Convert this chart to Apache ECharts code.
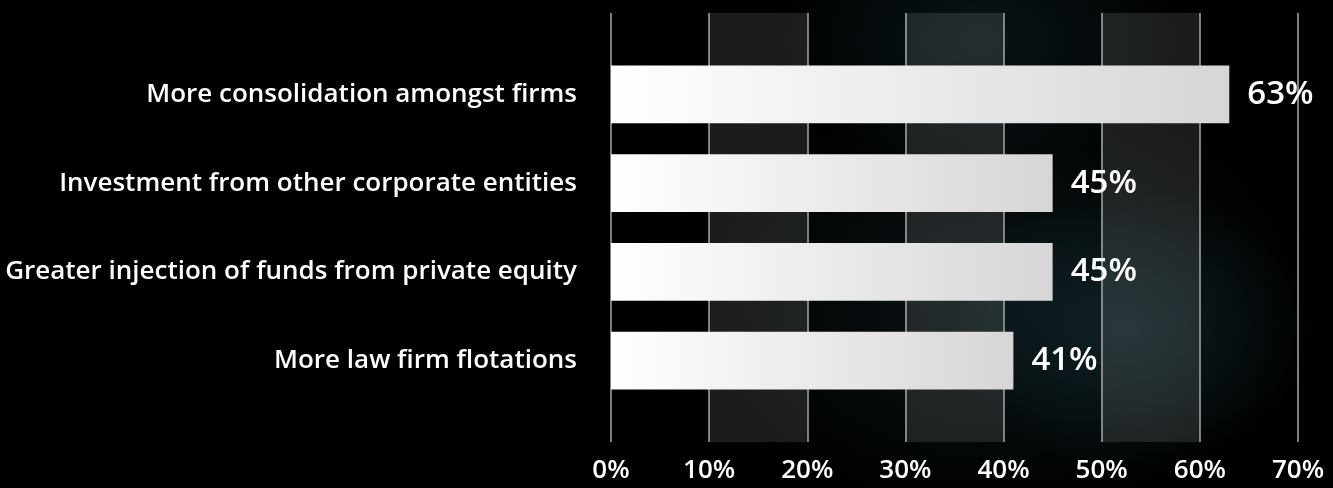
<!DOCTYPE html>
<html>
<head>
<meta charset="utf-8">
<script src="https://cdn.jsdelivr.net/npm/echarts@6/dist/echarts.min.js"></script>
<style>
  html, body { margin: 0; padding: 0; background: #000; }
  #chart {
    width: 1333px; height: 488px;
    background:
      radial-gradient(ellipse 260px 200px at 1130px 330px, rgba(30,70,78,0.35), rgba(0,0,0,0) 70%),
      radial-gradient(ellipse 300px 180px at 980px 40px, rgba(25,60,70,0.35), rgba(0,0,0,0) 70%),
      radial-gradient(ellipse 420px 300px at 1000px 300px, rgba(20,40,45,0.5), rgba(0,0,0,0) 75%),
      #000;
  }
</style>
</head>
<body>
<div id="chart"></div>
<script>
// Survey responses: expected drivers of change (share of respondents, %)
const categories = [
  'More consolidation amongst firms',
  'Investment from other corporate entities',
  'Greater injection of funds from private equity',
  'More law firm flotations'
];
const values = [63, 45, 45, 41];
const axisMin = 0;
const axisMax = 70;
const axisStep = 10;

const chart = echarts.init(document.getElementById('chart'), null, { renderer: 'canvas' });
const font = '"Open Sans", "Noto Sans", sans-serif';

chart.setOption({
  backgroundColor: 'transparent',
  grid: [
    // frame grid: vertical rules, shaded bands, tick labels
    { left: 611, right: 35, top: 13, bottom: 46, containLabel: false },
    // bar grid
    { left: 611, right: 35, top: 50, height: 355, containLabel: false }
  ],
  xAxis: [
    {
      gridIndex: 0, type: 'value', min: axisMin, max: axisMax, interval: axisStep,
      axisLine: { show: false }, axisTick: { show: false },
      axisLabel: {
        color: '#fff', fontFamily: font, fontSize: 26, fontWeight: 600,
        margin: 16, formatter: v => v + '%'
      },
      splitLine: { show: true, lineStyle: { color: '#a9a9a9', width: 1.5 } },
      splitArea: { show: true, areaStyle: { color: ['rgba(0,0,0,0)', 'rgba(255,255,255,0.11)'] } }
    },
    {
      gridIndex: 1, type: 'value', min: axisMin, max: axisMax, interval: axisStep,
      show: false
    }
  ],
  yAxis: [
    { gridIndex: 0, type: 'category', data: [''], show: false },
    {
      gridIndex: 1, type: 'category', data: categories, inverse: true,
      axisLine: { show: false }, axisTick: { show: false },
      axisLabel: {
        color: '#fff', fontFamily: font, fontSize: 26, fontWeight: 600, margin: 34
      }
    }
  ],
  series: [{
    type: 'bar',
    xAxisIndex: 1, yAxisIndex: 1,
    data: values,
    barCategoryGap: '35%',
    itemStyle: {
      color: new echarts.graphic.LinearGradient(0, 0, 1, 0, [
        { offset: 0, color: '#ffffff' },
        { offset: 1, color: '#d6d6d6' }
      ])
    },
    label: {
      show: true, position: 'right', distance: 18,
      color: '#fff', fontFamily: font, fontSize: 33, fontWeight: 600,
      formatter: p => p.value + '%'
    },
    silent: true,
    animation: false
  }],
  animation: false
});
</script>
</body>
</html>
